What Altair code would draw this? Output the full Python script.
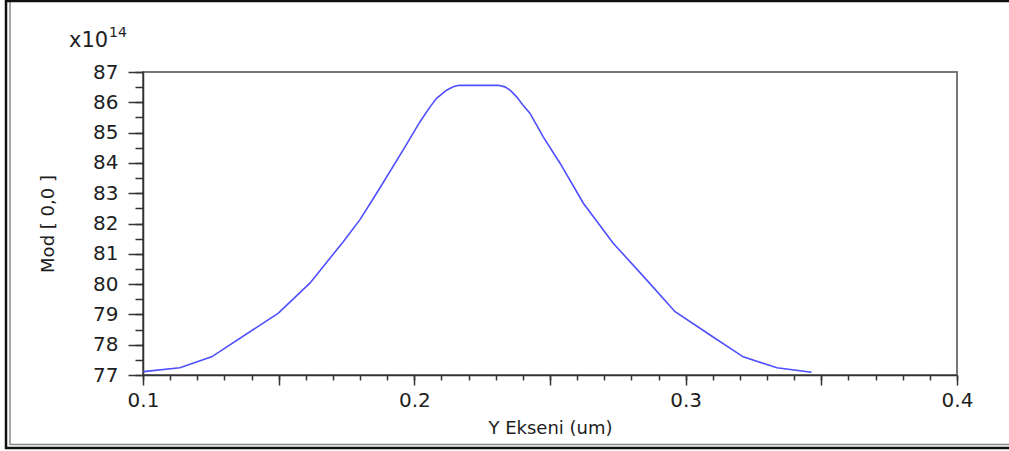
import altair as alt
import pandas as pd

# ---- data ----
x_um = [0.1001, 0.1136, 0.1253, 0.1499, 0.1615, 0.1738, 0.1799, 0.1861, 0.1959,
        0.2021, 0.2058, 0.2082, 0.2119, 0.2143, 0.2165, 0.2310, 0.2334, 0.2353,
        0.2377, 0.2400, 0.2426, 0.2475, 0.2537,
        0.2623, 0.2733, 0.2856, 0.2961, 0.3090, 0.3212, 0.3336, 0.3464]
mod_vals = [77.11, 77.24, 77.60, 79.04, 80.03, 81.40, 82.12, 83.00, 84.43,
            85.36, 85.85, 86.13, 86.40, 86.51, 86.56, 86.56, 86.51, 86.40,
            86.18, 85.91, 85.64, 84.86, 83.99,
            82.67, 81.35, 80.14, 79.09, 78.32, 77.60, 77.24, 77.09]

x_major = [0.1, 0.15, 0.2, 0.25, 0.3, 0.35, 0.4]
x_minor = [round(0.1 + 0.01 * i, 2) for i in range(31)]
y_major = list(range(77, 88))
y_minor = [77 + 0.5 * i for i in range(21)]

FONT = "DejaVu Sans"
TXT = "#1e1e1e"

df = pd.DataFrame({"x": x_um, "y": mod_vals})
one = pd.DataFrame({"k": [0]})

xdom = alt.Scale(domain=[0.1, 0.4], nice=False, zero=False)
ydom = alt.Scale(domain=[77, 87], nice=False, zero=False)

line = alt.Chart(df).mark_line(color="#4f4fff", strokeWidth=1.6, clip=True).encode(
    x=alt.X("x:Q", scale=xdom, axis=alt.Axis(
        values=x_major, tickSize=10, tickWidth=1.5, tickColor="#333",
        domainColor="#333", domainWidth=1.5, grid=False, labelFlush=False,
        labelExpr="abs(datum.value*10 - round(datum.value*10)) < 0.001 ? format(datum.value, '.1f') : ''",
        labelFont=FONT, labelFontSize=20, labelColor=TXT, labelPadding=5,
        title="Y Ekseni (um)", titleFont=FONT, titleFontSize=18, titleFontWeight="normal",
        titleColor=TXT, titleX=407, titleY=53, titleBaseline="middle", titleAnchor="middle")),
    y=alt.Y("y:Q", scale=ydom, axis=alt.Axis(
        values=y_major, tickSize=15, tickWidth=1.5, tickColor="#333",
        domainColor="#333", domainWidth=1.5, grid=False, format="d", labelFlush=False,
        labelFont=FONT, labelFontSize=20, labelColor=TXT, labelPadding=10,
        title="Mod [ 0,0 ]", titleFont=FONT, titleFontSize=18, titleFontWeight="normal",
        titleColor=TXT, titleX=-95, titleY=151.5, titleAngle=270,
        titleBaseline="middle", titleAlign="center")),
)

minor = alt.Chart(df).mark_line(opacity=0).encode(
    x=alt.X("x:Q", scale=xdom, axis=alt.Axis(
        orient="bottom", values=x_minor, tickSize=5, tickWidth=1.5, tickColor="#333",
        labels=False, domain=False, grid=False, title=None)),
    y=alt.Y("y:Q", scale=ydom, axis=alt.Axis(
        orient="left", values=y_minor, tickSize=8, tickWidth=1.5, tickColor="#333",
        labels=False, domain=False, grid=False, title=None)),
)

exp_base = alt.Chart(one).mark_text(font=FONT, fontSize=21, color=TXT, align="left",
                                    baseline="alphabetic").encode(
    x=alt.value(-74), y=alt.value(-25), text=alt.value("x10"))
exp_pow = alt.Chart(one).mark_text(font=FONT, fontSize=14, color=TXT, align="left",
                                   baseline="alphabetic").encode(
    x=alt.value(-34), y=alt.value(-35), text=alt.value("14"))

# outer frame of the figure (double line on the left and bottom)
frame_outer_left = alt.Chart(one).mark_rule(color="#111", strokeWidth=2.5).encode(
    x=alt.value(-137), y=alt.value(-72), y2=alt.value(377))
frame_inner_left = alt.Chart(one).mark_rule(color="#888", strokeWidth=1.5).encode(
    x=alt.value(-133), y=alt.value(-70), y2=alt.value(373))
frame_top = alt.Chart(one).mark_rule(color="#111", strokeWidth=2.5).encode(
    x=alt.value(-138), x2=alt.value(870), y=alt.value(-71))
frame_bottom = alt.Chart(one).mark_rule(color="#111", strokeWidth=2.5).encode(
    x=alt.value(-138), x2=alt.value(870), y=alt.value(376))
frame_inner_bottom = alt.Chart(one).mark_rule(color="#888", strokeWidth=1.5).encode(
    x=alt.value(-133), x2=alt.value(870), y=alt.value(372.5))

chart = alt.layer(
    frame_outer_left, frame_inner_left, frame_top, frame_bottom, frame_inner_bottom,
    line, minor, exp_base, exp_pow
).resolve_scale(x="independent", y="independent").resolve_axis(
    x="independent", y="independent"
).properties(
    width=814, height=303,
    autosize=alt.AutoSizeParams(type="none"),
    padding={"left": 143, "top": 72, "right": 52, "bottom": 76},
    background="white",
).configure_view(stroke="#777", strokeWidth=2)

chart.save("out.html", embed_options={"renderer": "svg", "actions": False})
